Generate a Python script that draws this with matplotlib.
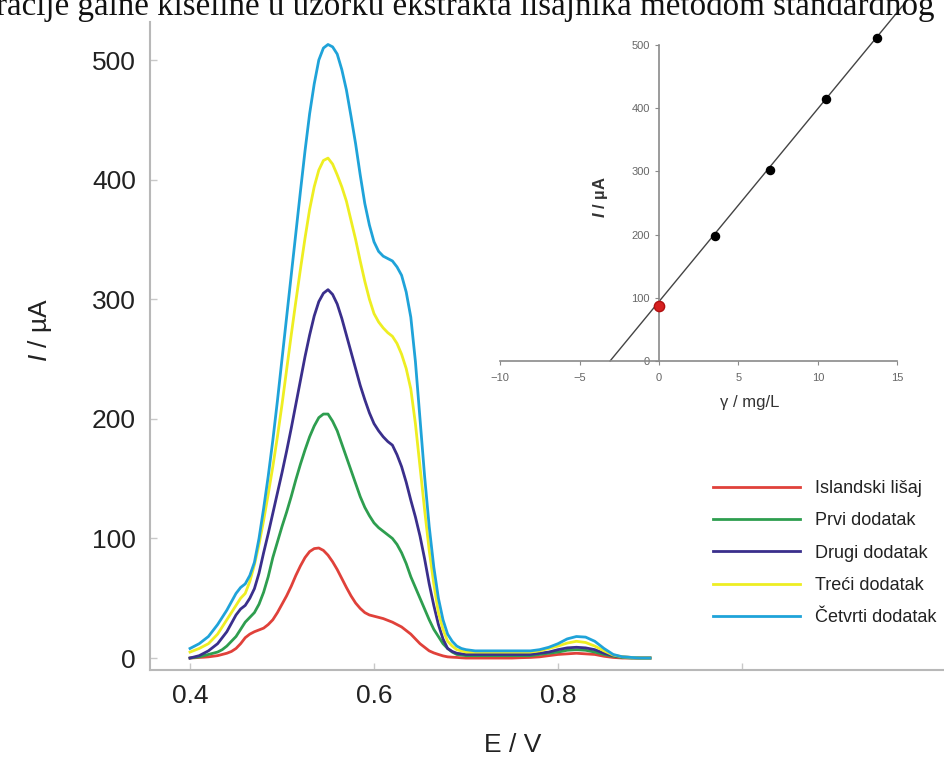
import matplotlib
matplotlib.use("Agg")
import matplotlib.pyplot as plt
import numpy as np

plt.rcParams['font.family'] = ['Liberation Sans', 'DejaVu Sans']
plt.rcParams['mathtext.fontset'] = 'custom'
plt.rcParams['mathtext.it'] = 'Liberation Sans:italic'
plt.rcParams['mathtext.rm'] = 'Liberation Sans'
plt.rcParams['mathtext.bf'] = 'Liberation Sans:bold:italic'

# ---------------- data ----------------
potential = [0.400, 0.405, 0.410, 0.415, 0.420, 0.425, 0.430, 0.435, 0.440, 0.445,
             0.450, 0.455, 0.460, 0.465, 0.470, 0.475, 0.480, 0.485, 0.490, 0.495,
             0.500, 0.505, 0.510, 0.515, 0.520, 0.525, 0.530, 0.535, 0.540, 0.545,
             0.550, 0.555, 0.560, 0.565, 0.570, 0.575, 0.580, 0.585, 0.590, 0.595,
             0.600, 0.605, 0.610, 0.615, 0.620, 0.625, 0.630, 0.635, 0.640, 0.645,
             0.650, 0.655, 0.660, 0.665, 0.670, 0.675, 0.680, 0.685, 0.690, 0.695,
             0.700,
             0.71, 0.72, 0.73, 0.74, 0.75, 0.76, 0.77, 0.78, 0.79, 0.80,
             0.81, 0.82, 0.83, 0.84, 0.85, 0.86, 0.87, 0.88, 0.89, 0.90]

islandski_lisaj = [0, 0.2, 0.5, 0.7, 1, 1.5, 2, 3, 4, 5.5,
                   8, 12, 17, 20, 22, 23.5, 25, 28, 32, 38,
                   45, 52, 60, 69, 77, 84, 89, 91.5, 92, 90,
                   86, 80.5, 74, 66.5, 59, 52, 46, 41.5, 38, 36,
                   35, 34, 33, 31.5, 30, 28, 26, 23, 20, 16,
                   12, 9, 6, 4.3, 3, 1.8, 1, 0.7, 0.5, 0.2,
                   0,
                   0, 0, 0, 0, 0, 0.3, 0.5, 1, 2, 3,
                   3.5, 4, 3.5, 3, 1.5, 0.5, 0, 0, 0, 0]

prvi_dodatak = [0, 0.5, 1, 2, 3, 4, 5, 7, 10, 14,
                18, 24, 30, 34, 38, 45, 55, 68, 84, 97,
                110, 122, 135, 149, 162, 174, 185, 194, 201, 204,
                204, 198, 190, 179, 168, 157, 146, 135, 126, 119,
                113, 109, 106, 103, 100, 95, 88, 79, 68, 59,
                50, 41, 32, 24, 18, 12, 8, 5, 3, 2.5,
                2,
                2, 2, 2, 2, 2, 2, 2, 3, 4, 5,
                6.5, 7, 6.5, 5, 3, 1.5, 0.5, 0, 0, 0]

drugi_dodatak = [0, 1, 2, 4, 6, 9, 12, 17, 22, 29,
                 36, 41, 44, 50, 58, 71, 88, 104, 121, 138,
                 155, 173, 192, 212, 232, 252, 270, 286, 298, 305,
                 308, 304, 296, 284, 270, 256, 242, 228, 216, 205,
                 196, 190, 185, 181, 178, 170, 160, 147, 132, 118,
                 102, 83, 62, 44, 28, 16, 8, 5.5, 4, 3.5,
                 3,
                 3, 3, 3, 3, 3, 3, 3, 4, 5, 7,
                 8.5, 9, 8.5, 7, 4, 2, 1, 0.5, 0, 0]

treci_dodatak = [5, 6.5, 8, 10, 12, 16, 20, 26, 32, 38,
                 44, 50, 54, 64, 78, 95, 115, 137, 160, 185,
                 212, 241, 270, 298, 325, 351, 375, 394, 408, 416,
                 418, 413, 404, 394, 382, 366, 350, 332, 315, 300,
                 288, 281, 276, 272, 269, 263, 254, 242, 225, 196,
                 160, 124, 90, 62, 38, 24, 14, 10, 7, 6,
                 5,
                 5, 5, 5, 5, 5, 5, 5, 6, 8, 10,
                 12.5, 14, 13, 10, 6, 2.5, 1, 0.5, 0, 0]

cetvrti_dodatak = [8, 10, 12, 15, 18, 23, 28, 34, 40, 47,
                   54, 59, 62, 69, 80, 100, 125, 152, 182, 215,
                   250, 285, 320, 355, 390, 424, 455, 480, 500, 510,
                   513, 511, 505, 492, 475, 453, 430, 404, 380, 362,
                   348, 340, 336, 334, 332, 327, 320, 306, 285, 248,
                   200, 152, 110, 76, 50, 32, 20, 14, 10, 8,
                   7,
                   6, 6, 6, 6, 6, 6, 6, 7, 9, 12,
                   16, 18, 17.5, 14, 8, 3, 1, 0.5, 0, 0]

series_labels = ['Islandski lišaj', 'Prvi dodatak', 'Drugi dodatak',
                 'Treći dodatak', 'Četvrti dodatak']
series_values = [islandski_lisaj, prvi_dodatak, drugi_dodatak,
                 treci_dodatak, cetvrti_dodatak]
series_colors = ['#e0413a', '#2e9e4f', '#3a2f8c', '#eeee22', '#1fa3d9']

main_xticks = [0.4, 0.6, 0.8, 1.0]
main_xticklabels = ['0.4', '0.6', '0.8', '']
main_yticks = [0, 100, 200, 300, 400, 500]

# inset: standard addition
added_conc = [3.5, 7.0, 10.5, 13.7]
added_current = [197, 302, 415, 511]
sample_conc = [0]
sample_current = [87]
fit_slope = 30.5
fit_intercept = 94
inset_xticks = [-10, -5, 0, 5, 10, 15]
inset_yticks = [0, 100, 200, 300, 400, 500]

caption = 'racije galne kiseline u uzorku ekstrakta lišajnika metodom standardnog'

# ---------------- figure ----------------
W, H = 944, 772
fig = plt.figure(figsize=(W / 100, H / 100), dpi=100)

# cropped caption text at the top
fig.text(-0.004, 1 - 15 / H, caption,
         family=['Liberation Serif', 'DejaVu Serif'], fontsize=23.8,
         ha='left', va='baseline', color='#111111')

ax = fig.add_axes([150 / W, 1 - 670 / H, (W - 150) / W, (670 - 22) / H])
ax.patch.set_visible(False)
for vals, lab, col in zip(series_values, series_labels, series_colors):
    ax.plot(potential, vals, color=col, lw=2.0, label=lab)

ax.set_xlim(0.3565, 1.2196)
ax.set_ylim(-10, 531.8)
for s in ['top', 'right']:
    ax.spines[s].set_visible(False)
for s in ['left', 'bottom']:
    ax.spines[s].set_color('#b8b8b8')
    ax.spines[s].set_linewidth(1.5)
ax.set_xticks(main_xticks)
ax.set_xticklabels(main_xticklabels)
ax.set_yticks(main_yticks)
ax.tick_params(axis='both', direction='in', length=5, width=1, color='#c8c8c8',
               labelsize=19, labelcolor='#222222')
ax.tick_params(axis='x', pad=10)
ax.tick_params(axis='y', pad=10)

fig.text(40 / W, 1 - 330 / H, r'$\mathit{I}$ / µA', rotation=90,
         ha='center', va='center', fontsize=19, color='#222222')
fig.text(513 / W, 1 - 745 / H, 'E / V', ha='center', va='center',
         fontsize=19, color='#222222')

leg = ax.legend(loc='upper left', bbox_to_anchor=(713 / W, 1 - 480 / H),
                bbox_transform=fig.transFigure, frameon=False, fontsize=13,
                handlelength=4.8, handletextpad=0.85, labelspacing=0.85,
                borderpad=0, borderaxespad=0)
for t in leg.get_texts():
    t.set_color('#222222')

# ---------------- inset ----------------
ix0, ix1 = -10.3, 16.0
iy0, iy1 = -20, 571
px_left = 659 + ix0 * 15.88
px_right = 659 + ix1 * 15.88
py_bottom = 361 - iy0 * 0.632
ax2 = fig.add_axes([px_left / W, 1 - py_bottom / H,
                    (px_right - px_left) / W, py_bottom / H])
ax2.patch.set_visible(False)
ax2.set_xlim(ix0, ix1)
ax2.set_ylim(iy0, iy1)
for s in ['top', 'right']:
    ax2.spines[s].set_visible(False)
ax2.spines['left'].set_position(('data', 0))
ax2.spines['bottom'].set_position(('data', 0))
ax2.spines['left'].set_bounds(0, 500)
ax2.spines['bottom'].set_bounds(-10, 15)
for s in ['left', 'bottom']:
    ax2.spines[s].set_color('#8a8a8a')
    ax2.spines[s].set_linewidth(1.2)
ax2.set_xticks(inset_xticks)
ax2.set_yticks(inset_yticks)
ax2.tick_params(axis='both', direction='out', length=3, width=0.8,
                color='#8a8a8a', labelsize=8, labelcolor='#666666')
ax2.tick_params(axis='x', pad=6)

xfit = np.array([-fit_intercept / fit_slope, ix1])
ax2.plot(xfit, fit_intercept + fit_slope * xfit, color='#444444', lw=1.0,
         clip_on=True)
ax2.scatter(added_conc, added_current, s=34, color='black', zorder=3)
ax2.scatter(sample_conc, sample_current, s=55, color='#d62020',
            edgecolor='#b01010', zorder=4, clip_on=False)

fig.text(600 / W, 1 - 197 / H, r'$\mathbf{I}$ / µA', rotation=90,
         ha='center', va='center', fontsize=12, color='#333333',
         fontweight='bold')
fig.text(750 / W, 1 - 403 / H, 'γ / mg/L', ha='center', va='center',
         fontsize=12, color='#333333')

fig.savefig('out.png', dpi=100)
